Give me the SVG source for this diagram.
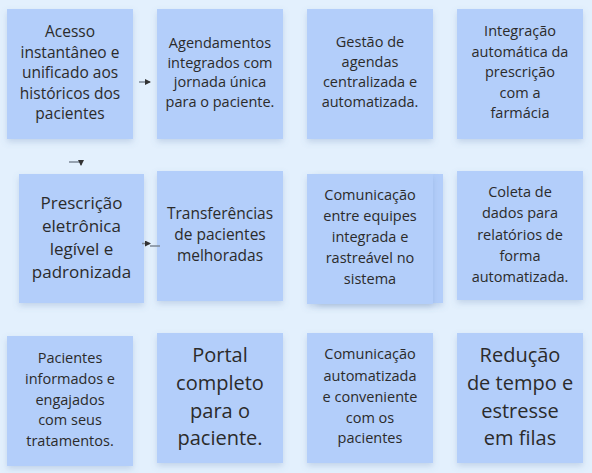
<svg xmlns="http://www.w3.org/2000/svg" width="592" height="473" viewBox="0 0 592 473">
<defs>
<filter id="sh" x="-20%" y="-20%" width="140%" height="150%">
<feDropShadow dx="0" dy="3" stdDeviation="3" flood-color="#5a7cae" flood-opacity="0.25"/>
</filter>
<marker id="ah" viewBox="0 0 6 6" refX="5" refY="3" markerWidth="4" markerHeight="4" orient="auto">
<path d="M0,0 L6,3 L0,6 z" fill="#333"/>
</marker>
</defs>
<style>
.n{fill:#b3cefa;filter:url(#sh)}
text{font-family:"Open Sans","Noto Sans","DejaVu Sans",sans-serif;fill:#2b2b2b;text-anchor:middle}
.s{font-size:14.5px}
.m{font-size:15.5px}
.l{font-size:17px}
.xl{font-size:20px}
.c{stroke:#7d8896;stroke-width:1.5;fill:none}
</style>
<rect width="592" height="473" fill="#e3f0fd"/>

<g id="n1"><rect class="n" x="7" y="9" width="126" height="130"/>
<text class="m"><tspan x="70" y="37">Acesso</tspan><tspan x="70" y="57.5">instantâneo e</tspan><tspan x="70" y="78">unificado aos</tspan><tspan x="70" y="98.5">históricos dos</tspan><tspan x="70" y="119">pacientes</tspan></text></g>

<g id="n2"><rect class="n" x="157" y="9" width="126" height="130"/>
<text class="s"><tspan x="220" y="48">Agendamentos</tspan><tspan x="220" y="67.5">integrados com</tspan><tspan x="220" y="87">jornada única</tspan><tspan x="220" y="106.5">para o paciente.</tspan></text></g>

<g id="n3"><rect class="n" x="307" y="9" width="126" height="130"/>
<text class="s"><tspan x="370" y="47">Gestão de</tspan><tspan x="370" y="67">agendas</tspan><tspan x="370" y="87">centralizada e</tspan><tspan x="370" y="107">automatizada.</tspan></text></g>

<g id="n4"><rect class="n" x="457" y="9" width="126" height="130"/>
<text class="s"><tspan x="520" y="36">Integração</tspan><tspan x="520" y="56.5">automática da</tspan><tspan x="520" y="77">prescrição</tspan><tspan x="520" y="97.5">com a</tspan><tspan x="520" y="118">farmácia</tspan></text></g>

<g id="n5"><rect class="n" x="19" y="174" width="125" height="129"/>
<text class="l"><tspan x="81.5" y="209">Prescrição</tspan><tspan x="81.5" y="232">eletrônica</tspan><tspan x="81.5" y="255">legível e</tspan><tspan x="81.5" y="278">padronizada</tspan></text></g>

<g id="n6"><rect class="n" x="157" y="171" width="126" height="130"/>
<text class="m"><tspan x="220" y="219">Transferências</tspan><tspan x="220" y="240">de pacientes</tspan><tspan x="220" y="261">melhoradas</tspan></text></g>

<g id="n7"><rect class="n" x="317" y="174" width="126" height="129"/><rect class="n" x="307" y="174" width="126" height="130"/>
<text class="s"><tspan x="370" y="200">Comunicação</tspan><tspan x="370" y="221">entre equipes</tspan><tspan x="370" y="242">integrada e</tspan><tspan x="370" y="263">rastreável no</tspan><tspan x="370" y="284">sistema</tspan></text></g>

<g id="n8"><rect class="n" x="457" y="171" width="126" height="129"/>
<text class="s"><tspan x="520" y="197">Coleta de</tspan><tspan x="520" y="218">dados para</tspan><tspan x="520" y="239.5">relatórios de</tspan><tspan x="520" y="261">forma</tspan><tspan x="520" y="282">automatizada.</tspan></text></g>

<g id="n9"><rect class="n" x="7" y="336" width="126" height="130"/>
<text class="s"><tspan x="70" y="363">Pacientes</tspan><tspan x="70" y="384">informados e</tspan><tspan x="70" y="404.5">engajados</tspan><tspan x="70" y="425">com seus</tspan><tspan x="70" y="446">tratamentos.</tspan></text></g>

<g id="n10"><rect class="n" x="157" y="333" width="126" height="130"/>
<text class="xl"><tspan x="220" y="362">Portal</tspan><tspan x="220" y="390">completo</tspan><tspan x="220" y="418">para o</tspan><tspan x="220" y="445">paciente.</tspan></text></g>

<g id="n11"><rect class="n" x="307" y="333" width="126" height="130"/>
<text class="s"><tspan x="370" y="359">Comunicação</tspan><tspan x="370" y="381">automatizada</tspan><tspan x="370" y="402">e conveniente</tspan><tspan x="370" y="423">com os</tspan><tspan x="370" y="443">pacientes</tspan></text></g>

<g id="n12"><rect class="n" x="457" y="333" width="126" height="130"/>
<text class="xl"><tspan x="520" y="362">Redução</tspan><tspan x="520" y="390">de tempo e</tspan><tspan x="520" y="418">estresse</tspan><tspan x="520" y="445">em filas</tspan></text></g>

<g id="connectors">
<path class="c" d="M139,82 L150,82" marker-end="url(#ah)"/>
<path class="c" d="M69,162 L81,162 L81,165" marker-end="url(#ah)"/>
<path class="c" d="M150,246 L160,246"/>
<path class="c" d="M142,243.5 L150,243.5" marker-end="url(#ah)"/>
</g>
</svg>
